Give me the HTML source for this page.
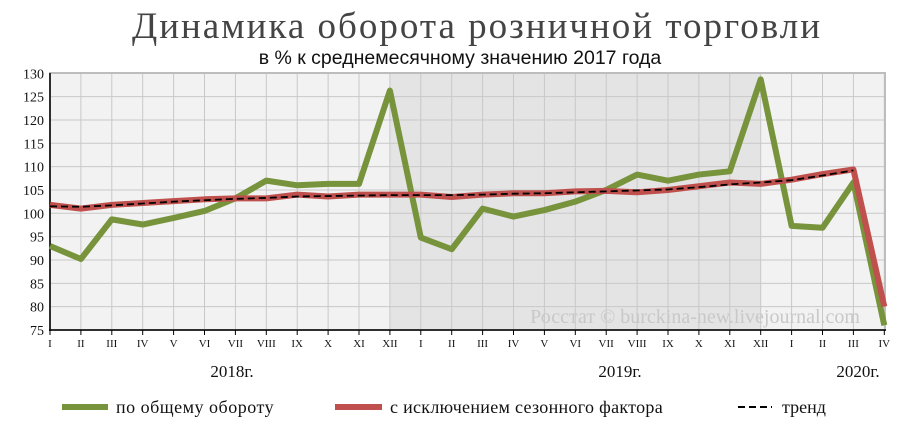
<!DOCTYPE html>
<html><head><meta charset="utf-8"><style>
body{margin:0;background:#fff;width:900px;height:436px;overflow:hidden}
svg{display:block}
</style></head><body>
<svg width="900" height="436" xmlns="http://www.w3.org/2000/svg">
<text x="477" y="38" text-anchor="middle" font-family="Liberation Serif, serif" font-size="37" fill="#444" letter-spacing="2">Динамика оборота розничной торговли</text>
<text x="460" y="64" text-anchor="middle" font-family="Liberation Sans, sans-serif" font-size="19.5" fill="#111">в % к среднемесячному значению 2017 года</text>
<rect x="50" y="73" width="835" height="257" fill="#f2f2f2"/>
<rect x="390" y="73" width="371" height="257" fill="#e4e4e4"/>
<g stroke="#c8c8c8" stroke-width="1" id="grid"></g>
<rect x="50" y="73" width="835" height="257" fill="none" stroke="#bdbdbd" stroke-width="2"/>
<line x1="50" y1="73" x2="50" y2="331" stroke="#000" stroke-width="1.5"/>
<line x1="49" y1="330" x2="886" y2="330" stroke="#000" stroke-width="1.5"/>
<g id="ylab" font-family="Liberation Serif, serif" font-size="14" fill="#111" text-anchor="end"></g>
<g id="xlab" font-family="Liberation Serif, serif" font-size="11" fill="#111" text-anchor="middle"></g>
<text x="860" y="323" text-anchor="end" font-family="Liberation Serif, serif" font-size="20" fill="#c8c8c8">Росстат © burckina-new.livejournal.com</text>
<polyline id="g" fill="none" stroke="#77933c" stroke-width="6" stroke-linejoin="round"/>
<polyline id="r" fill="none" stroke="#c0504d" stroke-width="6" stroke-linejoin="round"/>
<polyline id="t" fill="none" stroke="#000" stroke-width="1.8" stroke-dasharray="7,4"/>
<g font-family="Liberation Serif, serif" font-size="17" fill="#111" text-anchor="middle">
<text x="232" y="377">2018г.</text><text x="620" y="377">2019г.</text><text x="858" y="377">2020г.</text>
</g>
<g font-family="Liberation Serif, serif" font-size="18" fill="#111">
<line x1="62" y1="407" x2="108" y2="407" stroke="#77933c" stroke-width="6"/>
<text x="116" y="413" letter-spacing="0.5">по общему  обороту</text>
<line x1="335" y1="407" x2="382" y2="407" stroke="#c0504d" stroke-width="6"/>
<text x="390" y="413" letter-spacing="0.3">с исключением  сезонного фактора</text>
<line x1="738" y1="407" x2="772" y2="407" stroke="#000" stroke-width="2" stroke-dasharray="7,4"/>
<text x="782" y="413">тренд</text>
</g>
</svg>
<script>
var X=i=>50+i*30.9, Y=v=>73.3+(130-v)*4.667;
var ns="http://www.w3.org/2000/svg";
var grid=document.getElementById('grid'),yl=document.getElementById('ylab'),xl=document.getElementById('xlab');
for(var v=75;v<=130;v+=5){var l=document.createElementNS(ns,'line');l.setAttribute('x1',50);l.setAttribute('x2',885);l.setAttribute('y1',Y(v));l.setAttribute('y2',Y(v));grid.appendChild(l);
var t=document.createElementNS(ns,'text');t.setAttribute('x',44);t.setAttribute('y',Y(v)+5);t.textContent=v;yl.appendChild(t);}
var m=['I','II','III','IV','V','VI','VII','VIII','IX','X','XI','XII'];
for(var i=0;i<28;i++){var l=document.createElementNS(ns,'line');l.setAttribute('x1',X(i));l.setAttribute('x2',X(i));l.setAttribute('y1',73);l.setAttribute('y2',330);grid.appendChild(l);
var k=document.createElementNS(ns,'line');k.setAttribute('x1',X(i));k.setAttribute('x2',X(i));k.setAttribute('y1',330);k.setAttribute('y2',335);k.setAttribute('stroke','#000');xl.appendChild(k);
var t=document.createElementNS(ns,'text');t.setAttribute('x',X(i));t.setAttribute('y',347);t.textContent=m[i%12];xl.appendChild(t);}
function P(id,d){document.getElementById(id).setAttribute('points',d.map((v,i)=>X(i)+','+Y(v)).join(' '));}
P('g',[93,90.2,98.7,97.6,99,100.5,103.2,107,106,106.3,106.3,126.3,94.8,92.3,101,99.3,100.7,102.5,105,108.3,107,108.3,109,128.7,97.3,96.9,106.6,76]);
P('r',[101.8,101,101.8,102.2,102.6,103,103.2,103.2,104,103.6,104,104,104,103.5,104,104.3,104.3,104.7,104.8,104.5,105,105.8,106.6,106.3,107.2,108.4,109.4,80]);
P('t',[101.5,101.4,101.7,102.1,102.5,102.8,103.1,103.3,103.6,103.7,103.8,103.9,103.9,103.9,104,104.2,104.3,104.5,104.7,104.9,105.1,105.6,106.2,106.6,107.1,108.1,109.2]);
</script>
</body></html>
